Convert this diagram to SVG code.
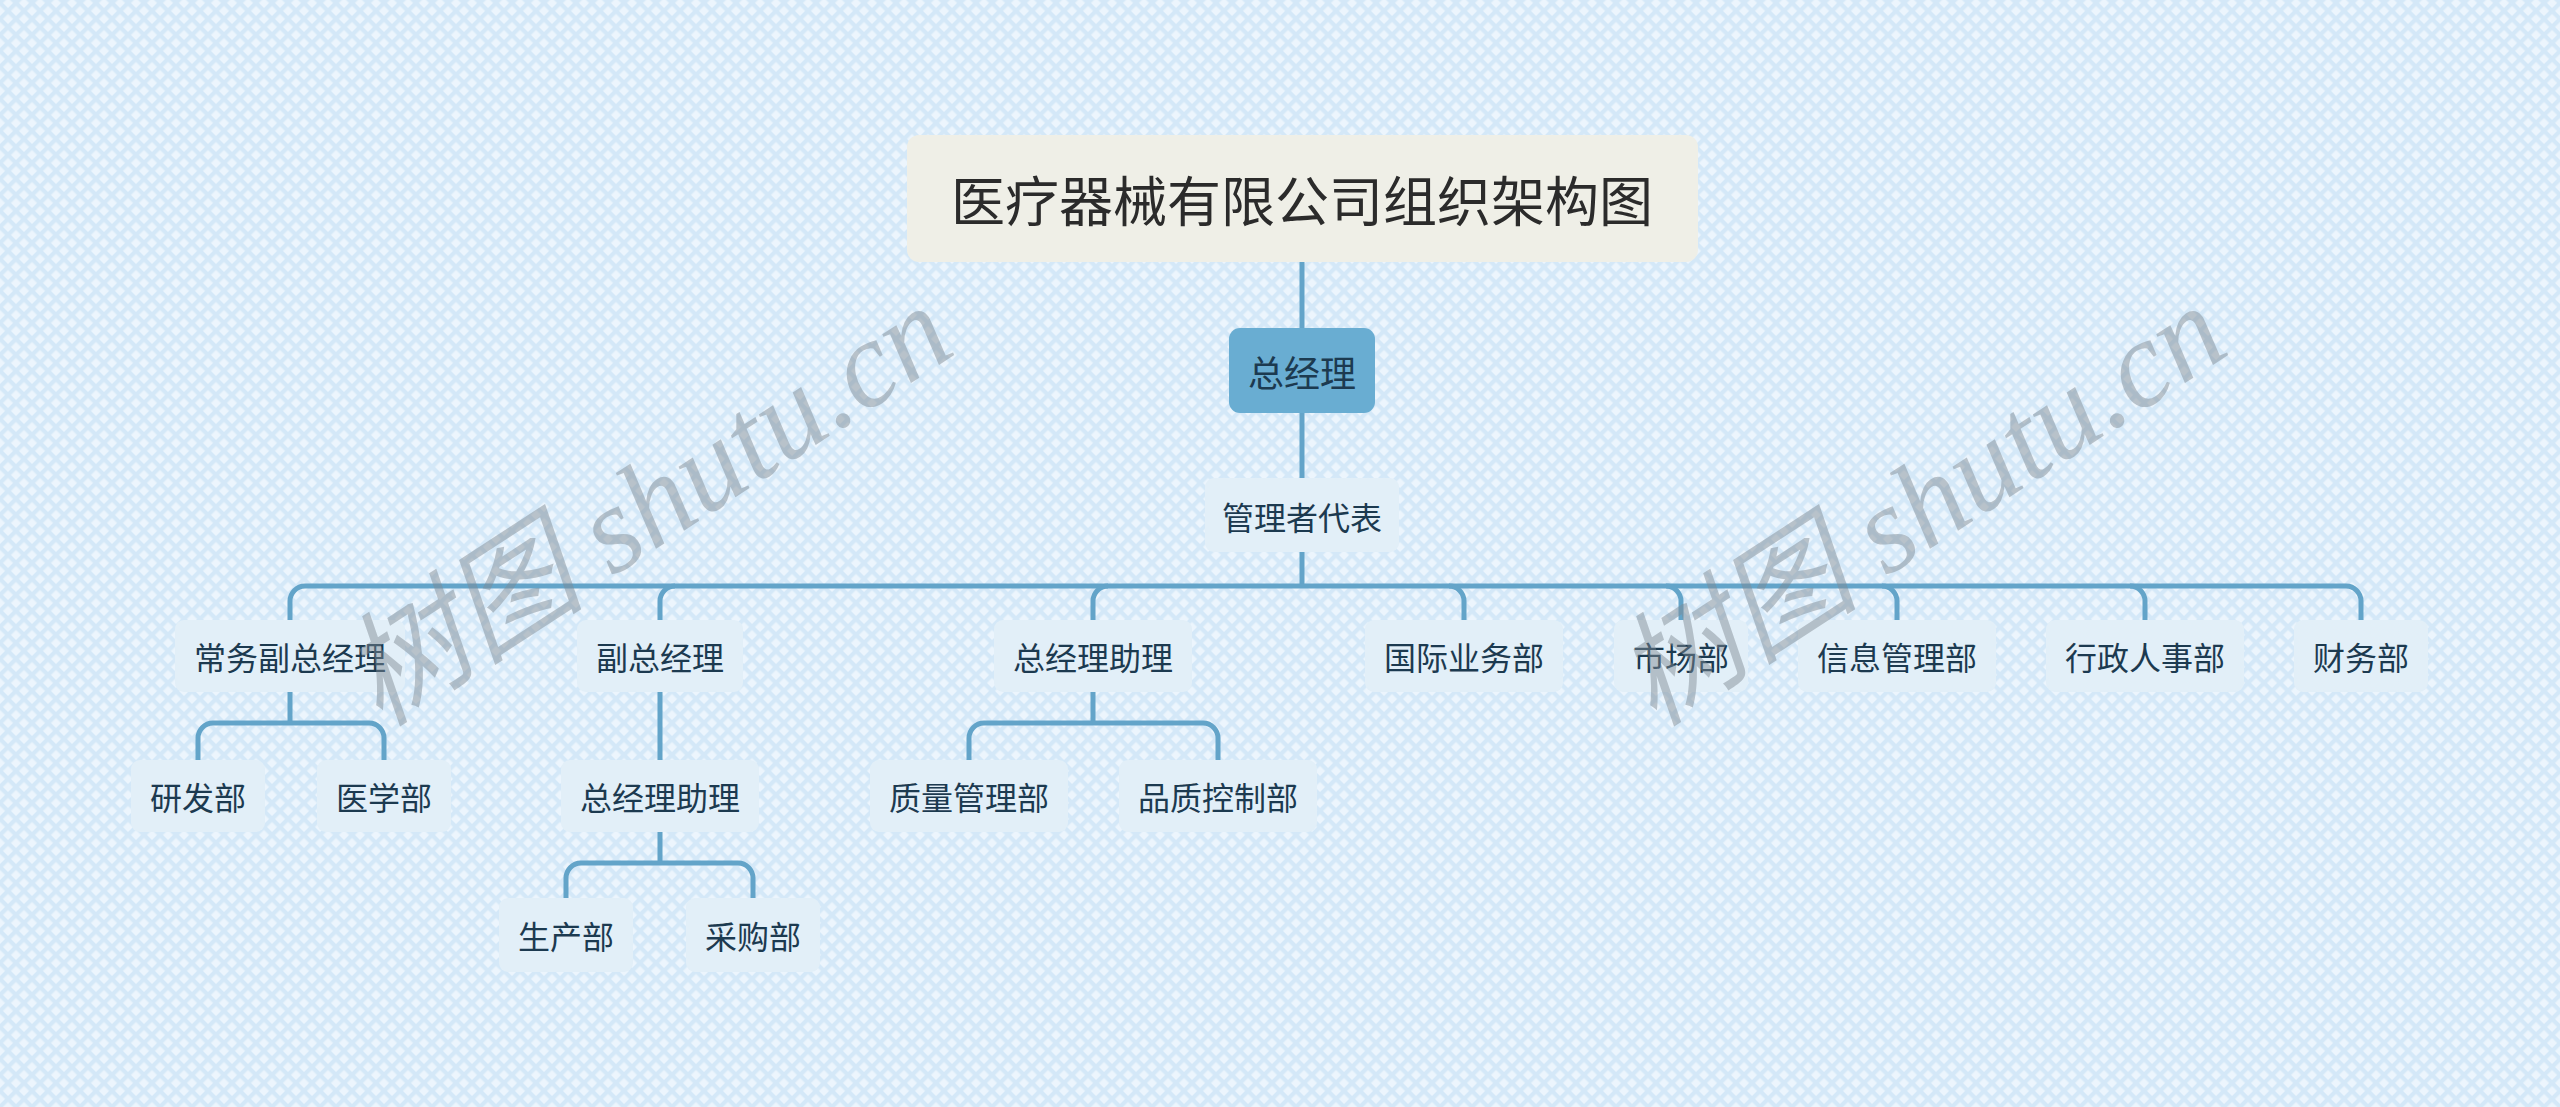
<svg xmlns="http://www.w3.org/2000/svg" width="2560" height="1107" viewBox="0 0 2560 1107">
<defs>
<pattern id="bg" patternUnits="userSpaceOnUse" width="11.314" height="11.314" patternTransform="rotate(45)">
<rect width="11.314" height="11.314" fill="#ecf5fd"/>
<rect x="0" y="0" width="4.2" height="11.314" fill="#d4e8f8"/>
<rect x="0" y="0" width="11.314" height="4.2" fill="#d4e8f8"/>
</pattern>
<style>
.t{font-family:"Noto Sans CJK SC","Noto Sans",sans-serif;fill:#1c3a50;text-anchor:middle;dominant-baseline:central}
.n{fill:#e2eff8}
.c{fill:none;stroke:#63a4c9;stroke-width:5;stroke-linecap:butt;stroke-linejoin:round}
.wm{font-family:"Liberation Serif","Noto Sans CJK SC",serif;font-style:italic;fill:#7f8a93;opacity:0.47}
</style>
</defs>
<rect width="2560" height="1107" fill="url(#bg)"/>

<g id="connectors">
<path class="c" d="M1302 262V328"/>
<path class="c" d="M1302 413V478"/>
<path class="c" d="M1302 552V586"/>
<path class="c" d="M305 586H2346"/>
<path class="c" d="M305 586A15 15 0 0 0 290 601V620"/>
<path class="c" d="M675 586A15 15 0 0 0 660 601V620"/>
<path class="c" d="M1108 586A15 15 0 0 0 1093 601V620"/>
<path class="c" d="M1449 586A15 15 0 0 1 1464 601V620"/>
<path class="c" d="M1666 586A15 15 0 0 1 1681 601V620"/>
<path class="c" d="M1882 586A15 15 0 0 1 1897 601V620"/>
<path class="c" d="M2130 586A15 15 0 0 1 2145 601V620"/>
<path class="c" d="M2346 586A15 15 0 0 1 2361 601V620"/>
<path class="c" d="M290 692V723"/>
<path class="c" d="M198 760V738A15 15 0 0 1 213 723H369A15 15 0 0 1 384 738V760"/>
<path class="c" d="M660 692V760"/>
<path class="c" d="M1093 692V723"/>
<path class="c" d="M969 760V738A15 15 0 0 1 984 723H1203A15 15 0 0 1 1218 738V760"/>
<path class="c" d="M660 832V863"/>
<path class="c" d="M566 898V878A15 15 0 0 1 581 863H738A15 15 0 0 1 753 878V898"/>
</g>

<g id="title">
<rect x="907" y="135" width="791" height="127" rx="12" fill="#efefe7"/>
<text class="t" x="1302" y="198" font-size="54" style="fill:#2b2b2b">医疗器械有限公司组织架构图</text>
</g>
<g id="gm">
<rect x="1229" y="328" width="146" height="85" rx="11" fill="#69add2"/>
<text class="t" x="1302" y="371" font-size="36">总经理</text>
</g>
<g id="rep">
<rect class="n" x="1205" y="478" width="194" height="74" rx="9"/>
<text class="t" x="1302" y="516" font-size="32">管理者代表</text>
</g>

<g id="n-cwfz">
<rect class="n" x="175" y="620" width="230" height="72" rx="9"/>
<text class="t" x="290" y="656" font-size="32">常务副总经理</text>
</g>
<g id="n-fz">
<rect class="n" x="577" y="620" width="166" height="72" rx="9"/>
<text class="t" x="660" y="656" font-size="32">副总经理</text>
</g>
<g id="n-zl1">
<rect class="n" x="994" y="620" width="198" height="72" rx="9"/>
<text class="t" x="1093" y="656" font-size="32">总经理助理</text>
</g>
<g id="n-gj">
<rect class="n" x="1365" y="620" width="198" height="72" rx="9"/>
<text class="t" x="1464" y="656" font-size="32">国际业务部</text>
</g>
<g id="n-sc">
<rect class="n" x="1614" y="620" width="134" height="72" rx="9"/>
<text class="t" x="1681" y="656" font-size="32">市场部</text>
</g>
<g id="n-xx">
<rect class="n" x="1798" y="620" width="198" height="72" rx="9"/>
<text class="t" x="1897" y="656" font-size="32">信息管理部</text>
</g>
<g id="n-xz">
<rect class="n" x="2046" y="620" width="198" height="72" rx="9"/>
<text class="t" x="2145" y="656" font-size="32">行政人事部</text>
</g>
<g id="n-cw">
<rect class="n" x="2294" y="620" width="134" height="72" rx="9"/>
<text class="t" x="2361" y="656" font-size="32">财务部</text>
</g>

<g id="n-yf">
<rect class="n" x="131" y="760" width="134" height="72" rx="9"/>
<text class="t" x="198" y="796" font-size="32">研发部</text>
</g>
<g id="n-yx">
<rect class="n" x="317" y="760" width="134" height="72" rx="9"/>
<text class="t" x="384" y="796" font-size="32">医学部</text>
</g>
<g id="n-zl2">
<rect class="n" x="561" y="760" width="198" height="72" rx="9"/>
<text class="t" x="660" y="796" font-size="32">总经理助理</text>
</g>
<g id="n-zlgl">
<rect class="n" x="870" y="760" width="198" height="72" rx="9"/>
<text class="t" x="969" y="796" font-size="32">质量管理部</text>
</g>
<g id="n-pzkz">
<rect class="n" x="1119" y="760" width="198" height="72" rx="9"/>
<text class="t" x="1218" y="796" font-size="32">品质控制部</text>
</g>
<g id="n-scb">
<rect class="n" x="499" y="898" width="134" height="74" rx="9"/>
<text class="t" x="566" y="935" font-size="32">生产部</text>
</g>
<g id="n-cg">
<rect class="n" x="686" y="898" width="134" height="74" rx="9"/>
<text class="t" x="753" y="935" font-size="32">采购部</text>
</g>

<g id="watermarks">
<text class="wm" x="0" y="0" font-size="123" transform="translate(380 728) rotate(-33)">树图 shutu.cn</text>
<text class="wm" x="0" y="0" font-size="123" transform="translate(1654 728) rotate(-33)">树图 shutu.cn</text>
</g>
</svg>
